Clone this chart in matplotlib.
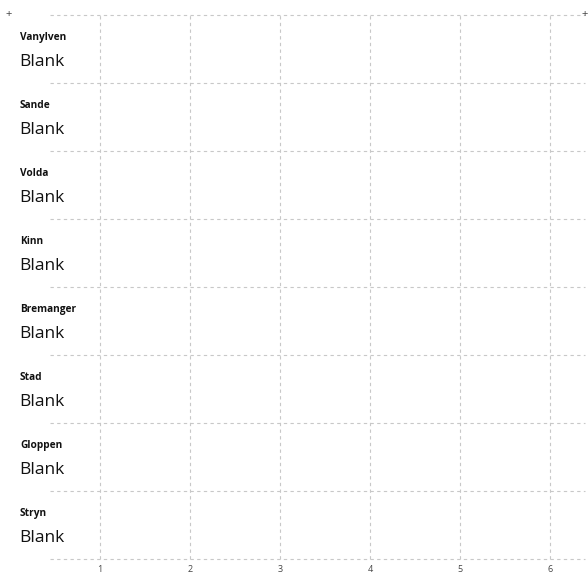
import matplotlib.pyplot as plt
from matplotlib.transforms import blended_transform_factory

# Rows and their (empty) values
kommuner = ["Vanylven", "Sande", "Volda", "Kinn", "Bremanger", "Stad", "Gloppen", "Stryn"]
status = ["Blank"] * len(kommuner)
x_ticks = [1, 2, 3, 4, 5, 6]

plt.rcParams['font.family'] = ['Open Sans', 'DejaVu Sans']

fig = plt.figure(figsize=(5.88, 5.75), dpi=100)
ax = fig.add_axes([50 / 588, 16 / 575, 535 / 588, 544 / 575])

n = len(kommuner)
ax.set_xlim(0.445, 6.39)
ax.set_ylim(n, 0)

grid_kw = dict(color='#c8c8c8', linestyle=(0, (3, 3)), linewidth=0.8, clip_on=False)
for i in range(n + 1):
    ax.axhline(i, **grid_kw)
for t in x_ticks:
    ax.axvline(t, **grid_kw)

for s in ax.spines.values():
    s.set_visible(False)
ax.set_yticks([])
ax.set_xticks(x_ticks)
ax.set_xticklabels([str(t) for t in x_ticks])
ax.tick_params(axis='x', length=0, labelsize=6.5, labelcolor='#444444', pad=4)

trans = blended_transform_factory(fig.transFigure, ax.transData)
for i, (navn, verdi) in enumerate(zip(kommuner, status)):
    fig.text(20 / 588, i + 0.33, navn, transform=trans, fontsize=7.3,
             fontweight='bold', color='#111111', va='center', ha='left')
    fig.text(19 / 588, i + 0.69, verdi, transform=trans, fontsize=12.5,
             color='#111111', va='center', ha='left')

# small corner markers
fig.text(9 / 588, 1 - 14 / 575, '+', fontsize=8, color='#444444', ha='center', va='center')
fig.text(585 / 588, 1 - 15 / 575, '+', fontsize=8, color='#444444', ha='center', va='center')

fig.savefig('out.png', dpi=100)
